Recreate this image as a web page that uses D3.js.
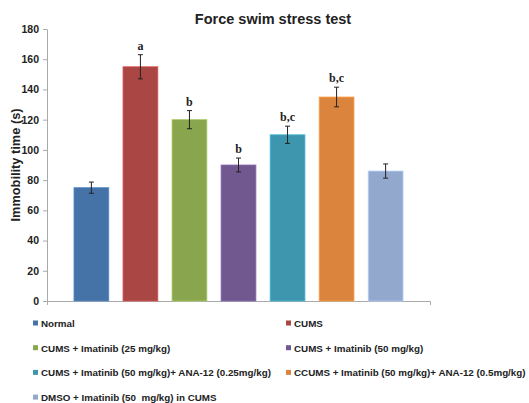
<!DOCTYPE html>
<html><head><meta charset="utf-8">
<script src="https://cdn.jsdelivr.net/npm/d3@7/dist/d3.min.js"></script>
<style>body{margin:0;background:#fff}svg{display:block}</style>
</head><body><svg id="c" width="529" height="403"></svg>
<script>
const groups = ["Normal","CUMS","CUMS + Imatinib (25 mg/kg)","CUMS + Imatinib (50 mg/kg)","CUMS + Imatinib (50 mg/kg)+ ANA-12 (0.25mg/kg)","CCUMS + Imatinib (50 mg/kg)+ ANA-12 (0.5mg/kg)","DMSO + Imatinib (50  mg/kg) in CUMS"];
const values = [75,155,120,90,110,135,86];
const errors = [3.7,8,6,4.6,5.7,6.5,4.7];
const sigLabels = ["","a","b","b","b,c","b,c",""];
const colors = ["#4572A7","#AA4643","#89A54E","#71588F","#3D96AE","#DB843D","#92A8CD"];
const yTicks = [0,20,40,60,80,100,120,140,160,180];

const svg = d3.select("#c");
const x = d3.scaleBand().domain(groups).range([47,430]).paddingInner(0.29).paddingOuter(0.55);
const y = d3.scaleLinear().domain([0,180]).range([301,29]);

svg.append("text").attr("x",273).attr("y",24).attr("text-anchor","middle")
  .attr("font-family","Liberation Sans, Arial, sans-serif").attr("font-weight","bold").attr("font-size",14.5)
  .attr("fill","#222").text("Force swim stress test");

const ya = svg.append("g").attr("transform","translate(47,0)")
  .call(d3.axisLeft(y).tickValues(yTicks).tickSize(4).tickPadding(4).tickSizeOuter(0));
ya.select(".domain").attr("stroke","#aaa");
ya.selectAll(".tick line").attr("stroke","#aaa");
ya.selectAll(".tick text").attr("font-family","Liberation Sans, Arial, sans-serif").attr("font-weight","bold").attr("font-size",10.5).attr("fill","#222");

const xa = svg.append("g").attr("transform","translate(0,301)")
  .call(d3.axisBottom(x).tickSize(0).tickSizeOuter(4).tickFormat(""));
xa.select(".domain").attr("stroke","#aaa");

svg.append("text").attr("transform","translate(20,165) rotate(-90)").attr("text-anchor","middle")
  .attr("font-family","Liberation Sans, Arial, sans-serif").attr("font-weight","bold").attr("font-size",12.8)
  .attr("fill","#222").text("Immobility time (s)");

svg.selectAll("rect.bar").data(groups).join("rect").attr("class","bar")
  .attr("x",d=>x(d)).attr("width",x.bandwidth())
  .attr("y",(d,i)=>y(values[i])).attr("height",(d,i)=>y(0)-y(values[i]))
  .attr("fill",(d,i)=>colors[i]).attr("stroke",(d,i)=>d3.color(colors[i]).brighter(0.6)).attr("stroke-width",0.8);

const eb = svg.selectAll("g.err").data(groups).join("g").attr("class","err");
eb.append("line").attr("x1",d=>x(d)+x.bandwidth()/2).attr("x2",d=>x(d)+x.bandwidth()/2)
  .attr("y1",(d,i)=>y(values[i]+errors[i])).attr("y2",(d,i)=>y(values[i]-errors[i]));
eb.append("line").attr("x1",d=>x(d)+x.bandwidth()/2-2.5).attr("x2",d=>x(d)+x.bandwidth()/2+2.5)
  .attr("y1",(d,i)=>y(values[i]+errors[i])).attr("y2",(d,i)=>y(values[i]+errors[i]));
eb.append("line").attr("x1",d=>x(d)+x.bandwidth()/2-2.5).attr("x2",d=>x(d)+x.bandwidth()/2+2.5)
  .attr("y1",(d,i)=>y(values[i]-errors[i])).attr("y2",(d,i)=>y(values[i]-errors[i]));
eb.selectAll("line").attr("stroke","#222").attr("stroke-width",1);

svg.selectAll("text.sig").data(groups).join("text").attr("class","sig")
  .attr("x",d=>x(d)+x.bandwidth()/2).attr("y",(d,i)=>y(values[i]+errors[i])-5)
  .attr("text-anchor","middle").attr("font-family","Liberation Serif, Times New Roman, serif")
  .attr("font-weight","bold").attr("font-size",12).attr("fill","#222").text((d,i)=>sigLabels[i]);

const lg = svg.selectAll("g.lg").data(groups).join("g").attr("class","lg")
  .attr("transform",(d,i)=>`translate(${i%2===0?33:286},${327+Math.floor(i/2)*24.7})`);
lg.append("rect").attr("x",0).attr("y",-6.5).attr("width",5).attr("height",5).attr("fill",(d,i)=>colors[i]);
lg.append("text").attr("x",8).attr("y",0).attr("font-family","Liberation Sans, Arial, sans-serif")
  .attr("font-weight","bold").attr("font-size",9.8).attr("fill","#222")
  .style("white-space","pre").text(d=>d);
</script></body></html>
